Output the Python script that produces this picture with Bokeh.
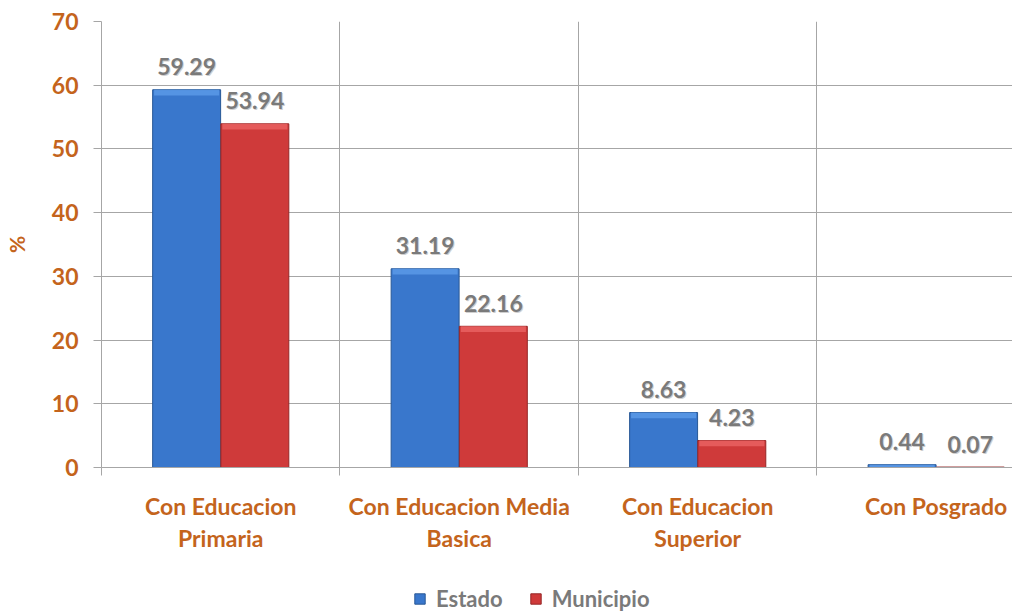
from bokeh.plotting import figure
from bokeh.layouts import column
from bokeh.models import ColumnDataSource, FixedTicker, LabelSet, Legend, LegendItem, Range1d
from bokeh.core.properties import value
from bokeh.embed import file_html
from bokeh.resources import INLINE

categories = ["Con Educacion\nPrimaria", "Con Educacion Media\nBasica", "Con Educacion\nSuperior", "Con Posgrado"]
estado = [59.29, 31.19, 8.63, 0.44]
municipio = [53.94, 22.16, 4.23, 0.07]
y_ticks = [0, 10, 20, 30, 40, 50, 60, 70]
series_names = ["Estado", "Municipio"]

ORANGE = "#C4641C"
GRAY_TXT = "#7A7A7A"
GRID = "#A6A6A6"
FONT = "Lato"
MAIN = ["#3977CC", "#CF3A3A"]
LIGHT = ["#5C9BE8", "#EA6464"]
DARK = ["#285896", "#952626"]

n = len(categories)
centers = [i + 0.5 for i in range(n)]
off = 0.143
bw = 0.285

p = figure(width=1012, height=585, output_backend="svg", toolbar_location=None,
           x_range=Range1d(0, 3.82), y_range=Range1d(0, 70),
           min_border_left=101, min_border_top=21, min_border_right=0, min_border_bottom=118)
p.outline_line_color = None
p.background_fill_color = "white"
p.border_fill_color = "white"

def bars(xs, vals, main, light, dark):
    src = ColumnDataSource(dict(x=xs, top=vals,
                                btop=[max(v - 0.9, 0) for v in vals],
                                lbl=["%.2f" % v for v in vals]))
    p.vbar(x="x", top="top", bottom=0, width=bw, source=src,
           fill_color=main, line_color=dark, line_width=1)
    p.vbar(x="x", top="top", bottom="btop", width=bw - 0.012, source=src,
           fill_color=light, line_color=None, fill_alpha=0.8)
    sh = LabelSet(x="x", y="top", text="lbl", source=src, x_offset=1, y_offset=22,
                  text_align="center", text_baseline="middle", text_color="#CFCFCF",
                  text_font=value(FONT), text_font_style="bold", text_font_size="23px")
    lb = LabelSet(x="x", y="top", text="lbl", source=src, x_offset=0, y_offset=23,
                  text_align="center", text_baseline="middle", text_color=GRAY_TXT,
                  text_font=value(FONT), text_font_style="bold", text_font_size="23px")
    p.add_layout(sh)
    p.add_layout(lb)

bars([c - off for c in centers], estado, MAIN[0], LIGHT[0], DARK[0])
bars([c + off for c in centers], municipio, MAIN[1], LIGHT[1], DARK[1])

# x axis: labels at centers, boundaries as minor ticks / grid
p.xaxis.ticker = FixedTicker(ticks=centers, minor_ticks=[0, 1, 2, 3])
p.xaxis.major_label_overrides = {c: lab for c, lab in zip(centers, categories)}
p.xaxis.major_tick_out = 0
p.xaxis.major_tick_in = 0
p.xaxis.minor_tick_out = 8
p.xaxis.minor_tick_in = 0
p.xaxis.minor_tick_line_color = GRID
p.xaxis.axis_line_color = GRID
p.xaxis.major_label_text_color = ORANGE
p.xaxis.major_label_text_font = FONT
p.xaxis.major_label_text_font_style = "bold"
p.xaxis.major_label_text_font_size = "23px"
p.xaxis.major_label_text_line_height = 1.15
p.xaxis.major_label_standoff = 16
p.xgrid.grid_line_color = None
p.xgrid.minor_grid_line_color = GRID

p.yaxis.ticker = FixedTicker(ticks=y_ticks, minor_ticks=[])
p.yaxis.major_tick_out = 8
p.yaxis.major_tick_in = 0
p.yaxis.major_tick_line_color = GRID
p.yaxis.axis_line_color = GRID
p.yaxis.major_label_text_color = ORANGE
p.yaxis.major_label_text_font = FONT
p.yaxis.major_label_text_font_style = "bold"
p.yaxis.major_label_text_font_size = "23px"
p.yaxis.major_label_standoff = 15
p.yaxis.axis_label = "%"
p.yaxis.axis_label_text_color = ORANGE
p.yaxis.axis_label_text_font = FONT
p.yaxis.axis_label_text_font_style = "bold"
p.yaxis.axis_label_text_font_size = "21px"
p.yaxis.axis_label_standoff = 20
p.ygrid.grid_line_color = GRID

# legend strip (its glyph renderers sit outside the visible range; only the legend shows)
p2 = figure(width=1012, height=28, output_backend="svg", toolbar_location=None,
            x_range=Range1d(0, 1), y_range=Range1d(0, 1), min_border=0)
p2.axis.visible = False
p2.grid.visible = False
p2.outline_line_color = None
items = []
for name, m, d in zip(series_names, MAIN, DARK):
    src = ColumnDataSource(dict(x=[-5.0], top=[0.0]))
    r = p2.vbar(x="x", top="top", bottom=0, width=0.1, source=src, fill_color=m, line_color=d)
    items.append(LegendItem(label=name, renderers=[r]))
legend = Legend(items=items, orientation="horizontal", location=(312, 1),
                label_text_color=GRAY_TXT, label_text_font=FONT,
                label_text_font_style="bold", label_text_font_size="22px",
                glyph_width=13, glyph_height=13, spacing=26, padding=0, margin=0,
                label_standoff=10, border_line_color=None, background_fill_alpha=0)
p2.add_layout(legend, "center")

open("out.html", "w").write(file_html(column(p, p2, spacing=0), INLINE))
